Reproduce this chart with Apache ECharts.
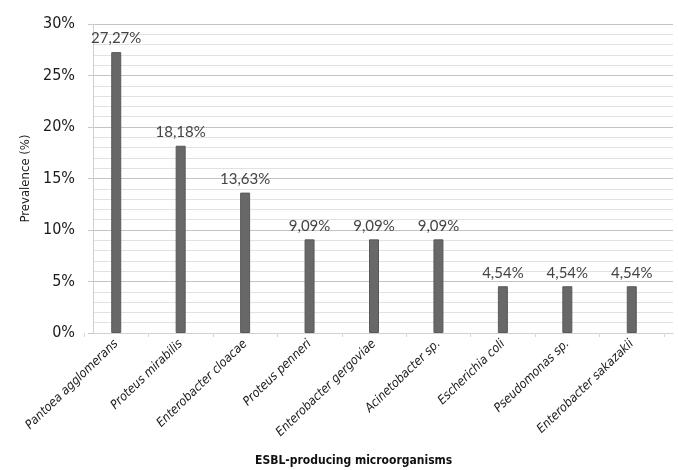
<!DOCTYPE html>
<html>
<head>
<meta charset="utf-8">
<script src="https://cdn.jsdelivr.net/npm/echarts@6/dist/echarts.min.js"></script>
<style>html,body{margin:0;padding:0;background:#fff;}#c{width:678px;height:470px;}</style>
</head>
<body>
<div id="c"></div>
<script>
const categories = ['Pantoea agglomerans','Proteus mirabilis','Enterobacter cloacae','Proteus penneri','Enterobacter gergoviae','Acinetobacter sp.','Escherichia coli','Pseudomonas sp.','Enterobacter sakazakii'];
const prevalence = [27.27, 18.18, 13.63, 9.09, 9.09, 9.09, 4.54, 4.54, 4.54];
const yTicks = [0, 5, 10, 15, 20, 25, 30];
const xTitle = 'ESBL-producing microorganisms';
const yTitle = 'Prevalence (%)';

const cond = 'DejaVu Sans Condensed';
const chart = echarts.init(document.getElementById('c'), null, {renderer:'canvas'});
chart.setOption({
  animation: false,
  backgroundColor: '#fff',
  grid: [
    {left: 84, right: 14, top: 24, bottom: 137},
    {left: 93, right: 5, top: 24, bottom: 137}
  ],
  xAxis: [
    {type: 'category', gridIndex: 0, data: categories,
     axisLine: {show: false},
     axisTick: {show: true, length: 4, lineStyle: {color: '#d8d8d8'}},
     axisLabel: {rotate: 44, interval: 0, margin: 9, fontFamily: cond, fontStyle: 'italic', fontSize: 12.5, color: '#1a1a1a'}
    },
    {type: 'value', gridIndex: 1, min: 0, max: 1, show: true,
     axisLine: {show: true, lineStyle: {color: '#d0d0d0'}},
     axisTick: {show: false}, axisLabel: {show: false}, splitLine: {show: false}}
  ],
  yAxis: [
    {type: 'value', gridIndex: 0, min: 0, max: 30, interval: 5, show: false},
    {type: 'value', gridIndex: 1, min: yTicks[0], max: yTicks[yTicks.length-1], interval: 5,
     axisLine: {show: true, lineStyle: {color: '#d0d0d0'}},
     axisTick: {show: true, inside: false, length: 5, lineStyle: {color: '#c8c8c8'}},
     axisLabel: {formatter: '{value}%', margin: 18, fontFamily: cond, fontSize: 16, color: '#1a1a1a'},
     splitLine: {show: true, lineStyle: {color: '#c4c4c4', width: 1}},
     minorTick: {show: false, splitNumber: 5},
     minorSplitLine: {show: true, lineStyle: {color: '#e2e2e2', width: 1}},
     name: yTitle, nameLocation: 'middle', nameRotate: 90, nameGap: 57,
     nameTextStyle: {fontFamily: cond, fontSize: 13, color: '#1a1a1a'}
    }
  ],
  series: [{
    type: 'bar', xAxisIndex: 0, yAxisIndex: 0, data: prevalence, barWidth: 10,
    itemStyle: {color: '#686868', borderColor: '#595959', borderWidth: 1},
    label: {show: true, position: 'top', distance: 6, fontFamily: 'Lato', fontSize: 15, color: '#444',
      formatter: p => p.value.toFixed(2).replace('.', ',') + '%'}
  }],
  graphic: [{type: 'text', left: 255, top: 455,
    style: {text: xTitle, fontFamily: cond, fontWeight: 'bold', fontSize: 12, fill: '#111'}}]
});
</script>
</body>
</html>
